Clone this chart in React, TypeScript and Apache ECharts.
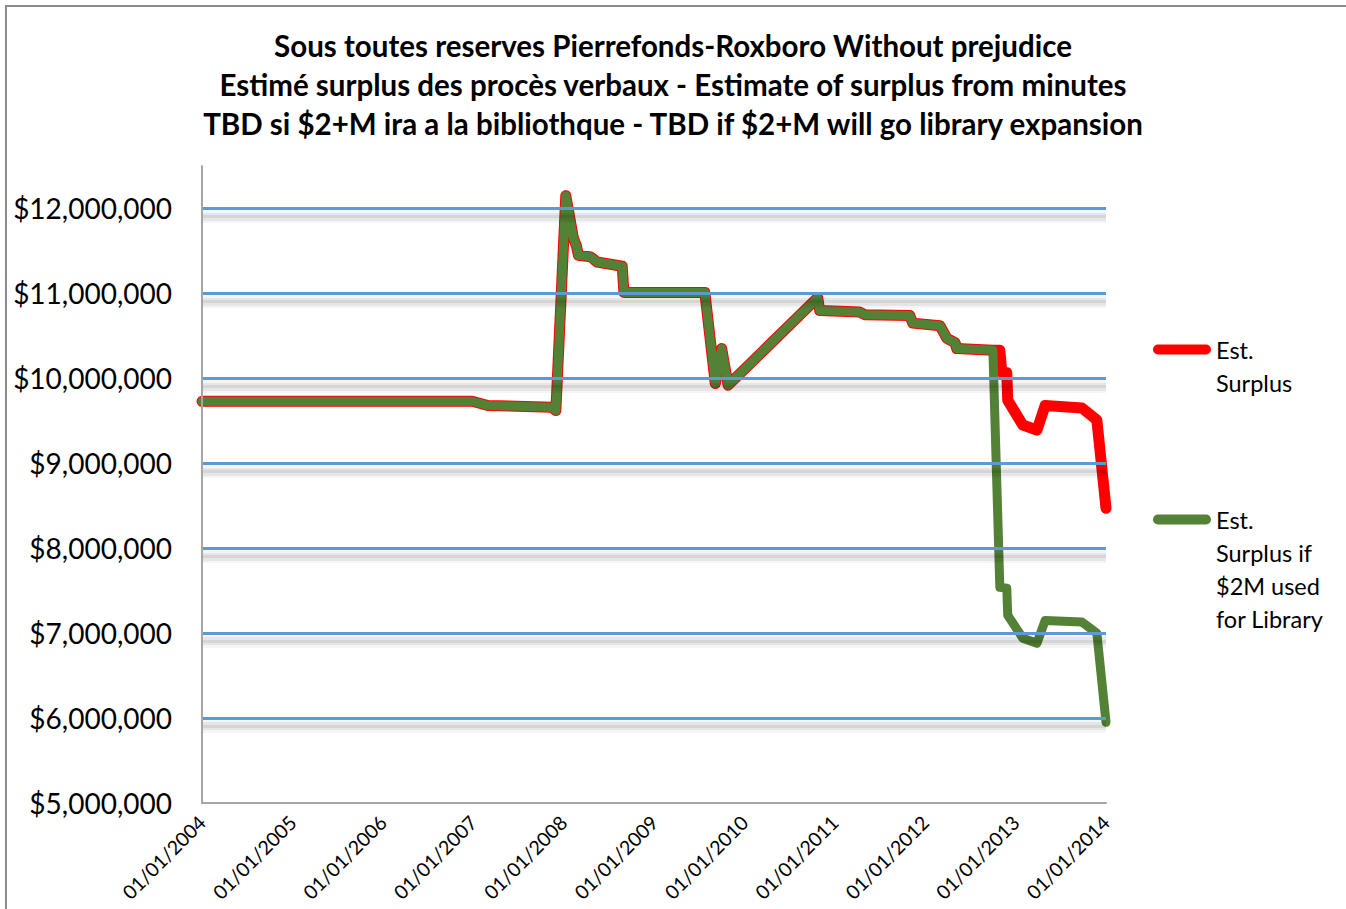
import React, { useEffect, useRef } from "react";
import * as echarts from "echarts";

const FONT = "Lato, 'Open Sans', sans-serif";

const titleLines = [
  "Sous toutes reserves Pierrefonds-Roxboro Without prejudice",
  "Estimé surplus des procès verbaux - Estimate of surplus from minutes",
  "TBD si $2+M ira a la bibliothque - TBD if $2+M will go library expansion",
];

const seriesNames = ["Est.\nSurplus", "Est.\nSurplus if\n$2M used\nfor Library"];

const tickYears = [2004, 2005, 2006, 2007, 2008, 2009, 2010, 2011, 2012, 2013, 2014];
const gridValues = [6000000, 7000000, 8000000, 9000000, 10000000, 11000000, 12000000];

// shared history (both series identical until autumn 2012)
const commonDates = [
  "2004-01-01", "2006-12-28", "2007-03-01", "2007-11-15", "2007-12-01",
  "2008-01-10", "2008-02-10", "2008-02-22", "2008-03-01", "2008-04-20",
  "2008-05-15", "2008-08-25", "2008-09-01", "2009-07-25", "2009-09-05",
  "2009-10-01", "2009-10-27", "2010-10-24", "2010-11-01", "2011-04-12",
  "2011-05-02", "2011-10-31", "2011-11-12", "2012-03-01", "2012-03-29",
  "2012-05-01", "2012-05-08", "2012-10-01",
];
const commonValues = [
  9730000, 9730000, 9680000, 9660000, 9620000,
  12150000, 11650000, 11560000, 11450000, 11430000,
  11370000, 11320000, 11010000, 11010000, 9940000,
  10350000, 9920000, 10950000, 10800000, 10780000,
  10750000, 10740000, 10650000, 10620000, 10470000,
  10420000, 10350000, 10330000,
];

const surplusTailDates = [
  "2012-10-29", "2012-11-06", "2012-11-26", "2012-11-30", "2013-01-30",
  "2013-03-28", "2013-04-30", "2013-09-26", "2013-11-25", "2014-01-01",
];
const surplusTailValues = [
  10330000, 10070000, 10070000, 9740000, 9450000,
  9390000, 9680000, 9650000, 9510000, 8470000,
];

const libraryTailDates = [
  "2012-10-29", "2012-11-26", "2012-11-30", "2013-01-30",
  "2013-03-28", "2013-04-30", "2013-09-26", "2013-11-25", "2014-01-01",
];
const libraryTailValues = [
  7540000, 7530000, 7210000, 6940000,
  6880000, 7150000, 7130000, 7000000, 5950000,
];

const toTime = (s: string) => {
  const [y, m, d] = s.split("-").map(Number);
  return Date.UTC(y, m - 1, d);
};
const pair = (d: string[], v: number[]) => d.map((x, i) => [toTime(x), v[i]]);

const pad2 = (n: number) => (n < 10 ? "0" + n : "" + n);

export default function App() {
  const ref = useRef<HTMLDivElement>(null);

  useEffect(() => {
    document.body.style.margin = "0";
    if (!ref.current) return;
    const chart = echarts.init(ref.current, undefined, { renderer: "svg" });

    const surplusData = pair(commonDates, commonValues).concat(
      pair(surplusTailDates, surplusTailValues)
    );
    const libraryData = pair(commonDates, commonValues).concat(
      pair(libraryTailDates, libraryTailValues)
    );

    const tickValues = tickYears.map((y) => Date.UTC(y, 0, 1));

    const capsule = "path://M5,0 H53 A5,5 0 0 1 53,10 H5 A5,5 0 0 1 5,0 Z";

    const yMin = 5000000;
    const yMax = 12500000;
    // shadow offset (in value units) for the soft shadow below each gridline
    const shadowShift = 95000;

    const legendText = {
      fontFamily: FONT,
      fontSize: 23.5,
      lineHeight: 33,
      color: "#000000",
    };
    const legendCommon = {
      orient: "vertical",
      padding: 0,
      itemWidth: 58,
      itemHeight: 10,
      icon: capsule,
      selectedMode: false,
      textStyle: legendText,
    };

    const shadowSeries = (width: number, alpha: number) => ({
      type: "line",
      yAxisIndex: 1,
      data: [] as number[][],
      silent: true,
      z: 0,
      markLine: {
        silent: true,
        symbol: "none",
        animation: false,
        label: { show: false },
        lineStyle: { color: `rgba(0,0,0,${alpha})`, width, type: "solid" },
        emphasis: { disabled: true },
        data: gridValues.map((v) => ({ yAxis: v })),
      },
    });

    chart.setOption({
      animation: false,
      backgroundColor: "#ffffff",
      title: {
        text: titleLines.join("\n"),
        left: "center",
        top: 21,
        textStyle: {
          fontFamily: FONT,
          fontWeight: "bold",
          fontSize: 29.5,
          lineHeight: 39,
          color: "#000000",
        },
      },
      legend: [
        {
          ...legendCommon,
          data: [seriesNames[0]],
          left: 1153,
          top: 300,
          formatter: (name: string) => "\n" + name,
        },
        {
          ...legendCommon,
          data: [seriesNames[1]],
          left: 1153,
          top: 404,
          formatter: (name: string) => "\n\n\n" + name,
        },
      ],
      grid: {
        left: 202,
        right: 240,
        top: 166,
        bottom: 106,
        containLabel: false,
      },
      xAxis: {
        type: "value",
        min: tickValues[0],
        max: tickValues[tickValues.length - 1],
        axisLine: { show: true, lineStyle: { color: "#a6a6a6", width: 2 } },
        axisTick: { show: false },
        splitLine: { show: false },
        axisLabel: {
          customValues: tickValues,
          rotate: 45,
          margin: 16,
          fontFamily: FONT,
          fontSize: 19.5,
          color: "#000000",
          formatter: (v: number) => {
            const d = new Date(v);
            return (
              pad2(d.getUTCDate()) + "/" + pad2(d.getUTCMonth() + 1) + "/" + d.getUTCFullYear()
            );
          },
        },
      },
      yAxis: [
        {
          type: "value",
          min: yMin,
          max: yMax,
          interval: 1000000,
          axisLine: { show: true, lineStyle: { color: "#a6a6a6", width: 2 } },
          axisTick: { show: false },
          z: 5,
          splitLine: {
            show: true,
            showMinLine: false,
            showMaxLine: false,
            lineStyle: { color: "#5b9bd5", width: 3 },
          },
          axisLabel: {
            showMaxLabel: false,
            margin: 30,
            fontFamily: FONT,
            fontSize: 28,
            color: "#000000",
            formatter: (v: number) =>
              v % 1000000 === 0 ? "$" + v.toLocaleString("en-US") : "",
          },
        },
        {
          type: "value",
          show: false,
          min: yMin + shadowShift,
          max: yMax + shadowShift,
          splitLine: { show: false },
        },
      ],
      graphic: [
        {
          type: "rect",
          silent: true,
          z: -10,
          shape: { x: 6, y: 6, width: 1400, height: 1000 },
          style: { fill: "none", stroke: "#8c8c8c", lineWidth: 2 },
        },
      ],
      series: [
        shadowSeries(13, 0.04),
        shadowSeries(8, 0.06),
        shadowSeries(3, 0.07),
        {
          name: seriesNames[0],
          type: "line",
          data: surplusData,
          showSymbol: false,
          symbol: "none",
          color: "#ff0000",
          lineStyle: { color: "#ff0000", width: 11, cap: "round", join: "round" },
          z: 2,
        },
        {
          name: seriesNames[1],
          type: "line",
          data: libraryData,
          showSymbol: false,
          symbol: "none",
          color: "#538135",
          lineStyle: { color: "#538135", width: 9, cap: "round", join: "round" },
          z: 3,
        },
      ],
    });

    return () => chart.dispose();
  }, []);

  return <div ref={ref} style={{ width: 1346, height: 909 }} />;
}
